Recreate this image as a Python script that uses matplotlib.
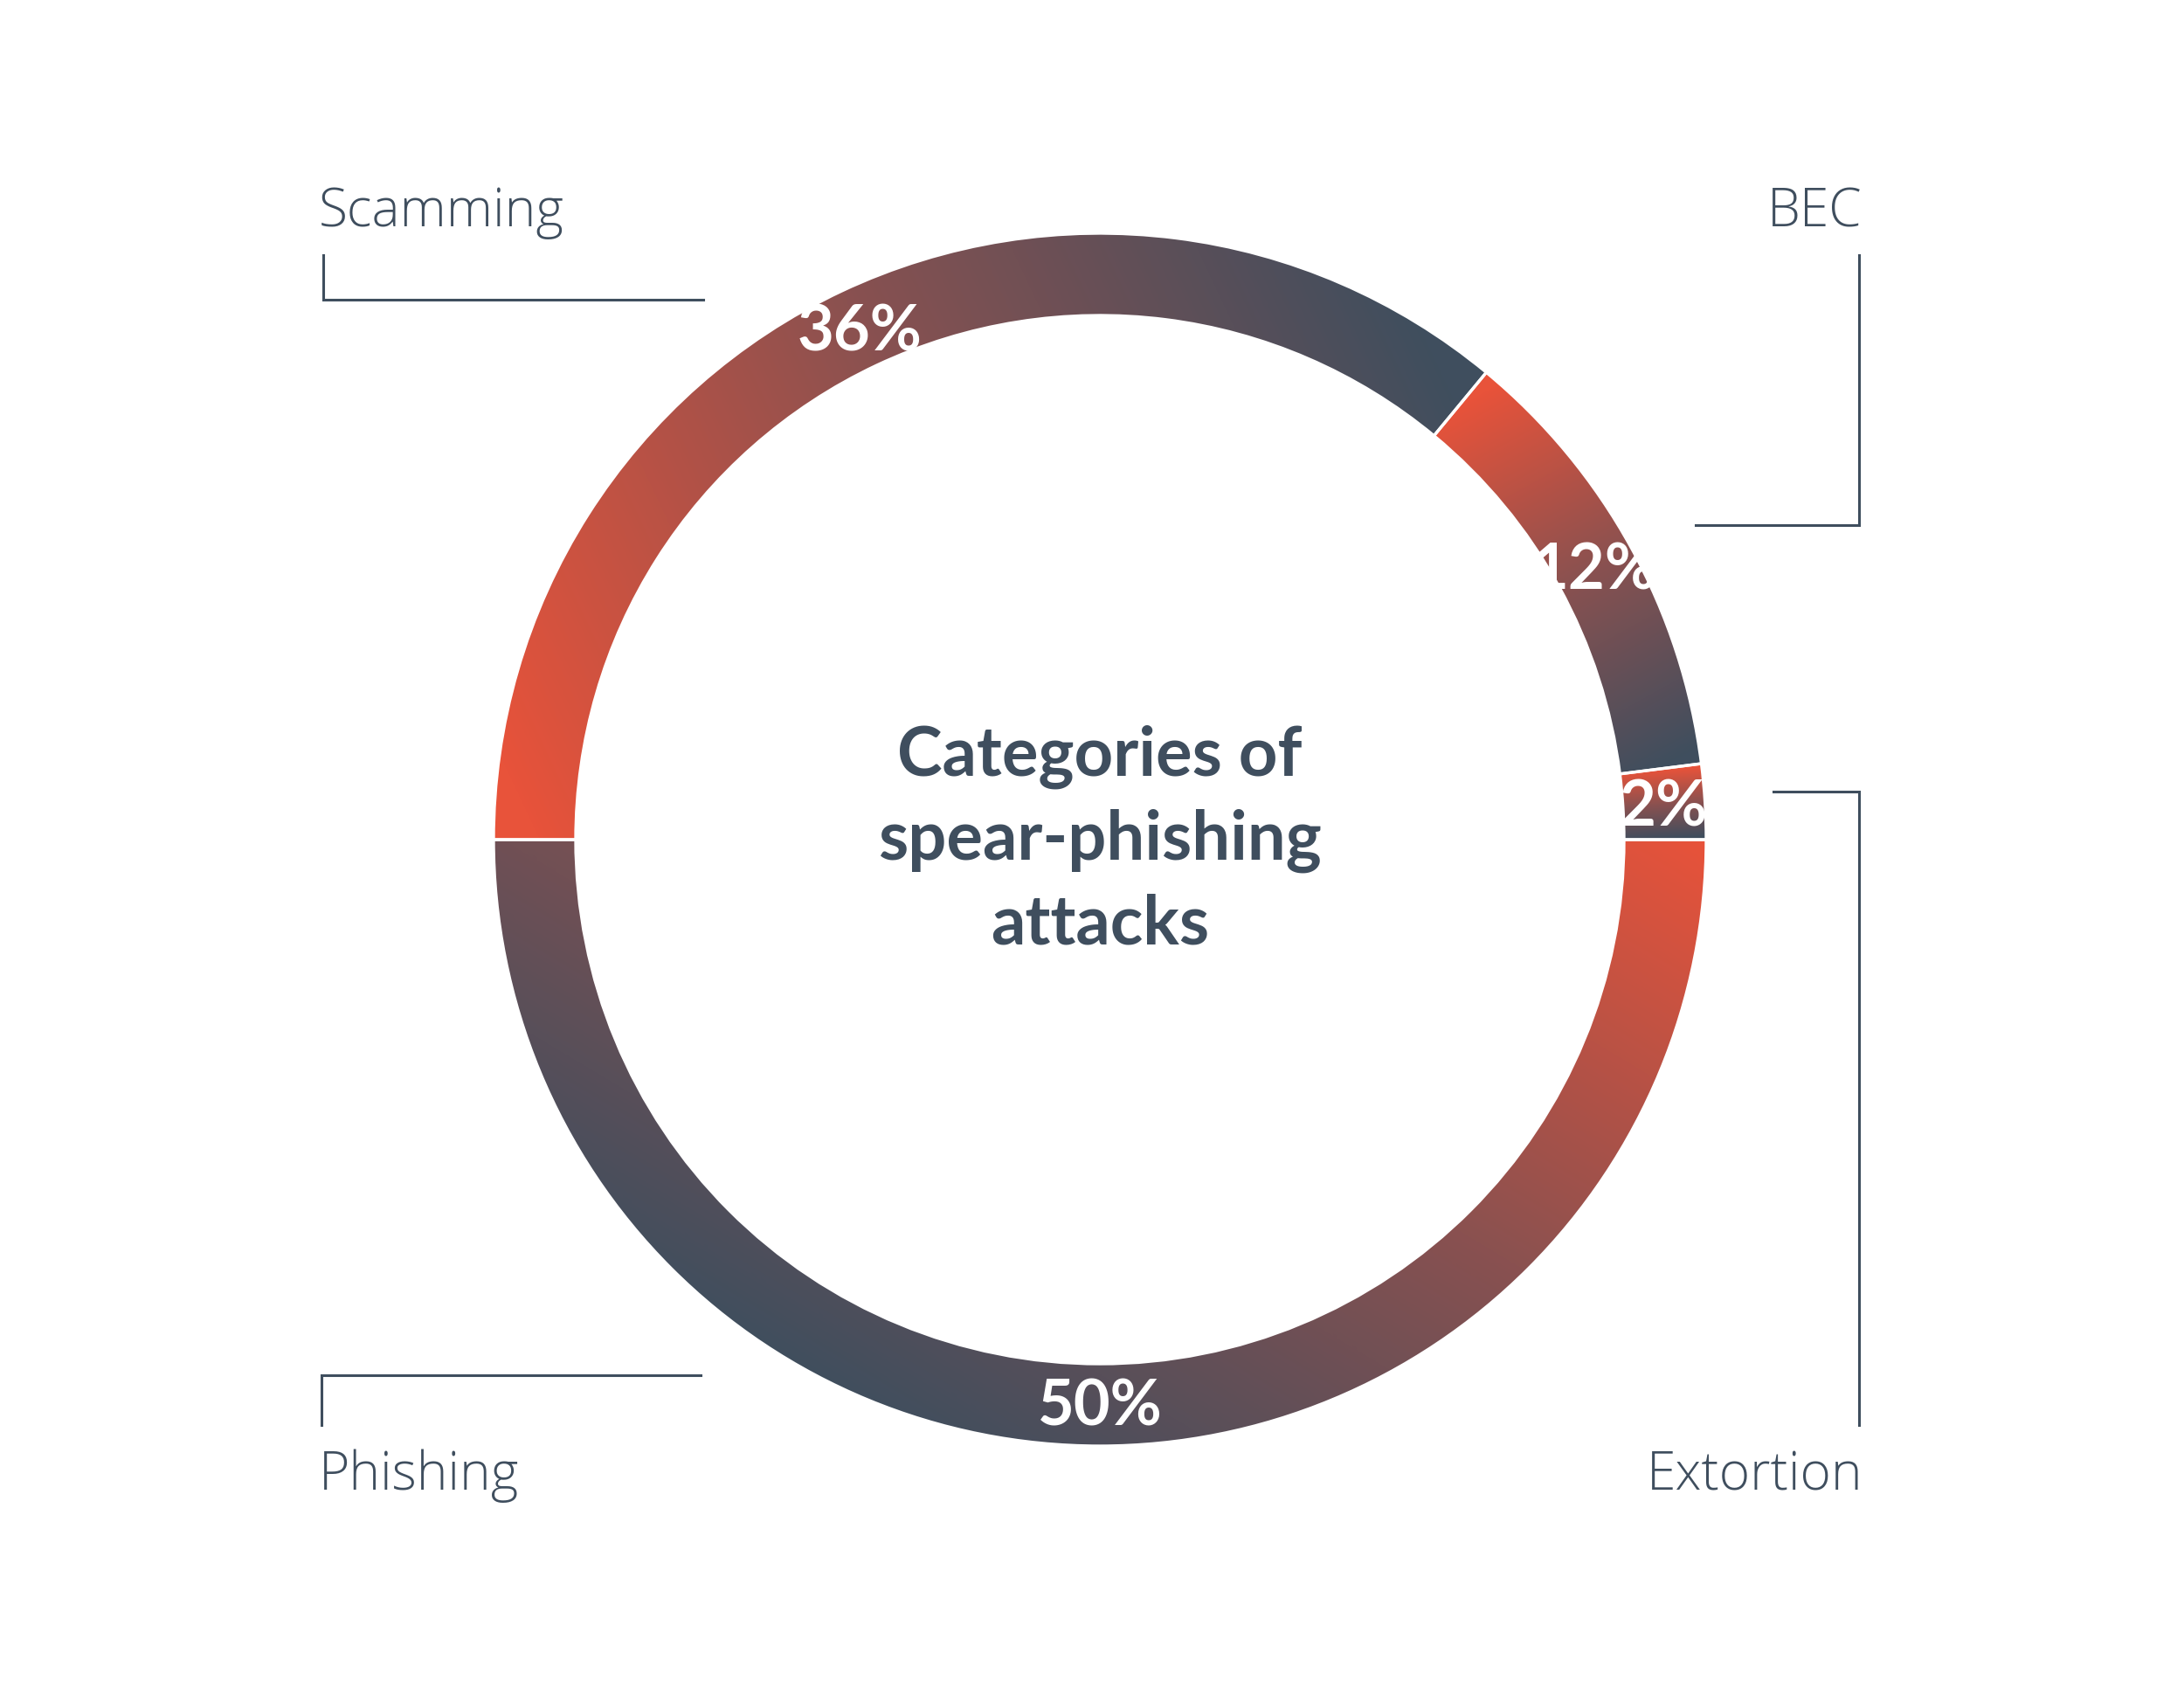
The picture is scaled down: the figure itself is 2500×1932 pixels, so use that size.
import numpy as np
import matplotlib
matplotlib.use("Agg")
import matplotlib.pyplot as plt
from matplotlib.colors import LinearSegmentedColormap

# ---------------- data ----------------
categories = ["Scamming", "BEC", "Extortion", "Phishing"]
shares = [36, 12, 2, 50]
pct_labels = ["36%", "12%", "2%", "50%"]
title_text = "Categories of\nspear-phishing\nattacks"

# ---------------- style ----------------
W, H = 2500, 1932
ORANGE = "#E8533A"
SLATE = "#3F4E5E"
TEXT = "#3F4E5E"
CX, CY_S = 1259, 961          # donut centre (screen px)
R_OUT, RING = 694, 94

def Y(ys):
    return H - ys

fig = plt.figure(figsize=(W / 100, H / 100), dpi=100)
ax = fig.add_axes([0, 0, 1, 1])

wedges, _ = ax.pie(shares, startangle=180, counterclock=False,
                   center=(CX, Y(CY_S)), radius=R_OUT, frame=True,
                   wedgeprops=dict(width=RING, facecolor="none",
                                   edgecolor="white", linewidth=2.4))
ax.set_xlim(0, W)
ax.set_ylim(0, H)
ax.set_aspect("auto")
ax.axis("off")

cmap = LinearSegmentedColormap.from_list("og", [ORANGE, "#8A5150", SLATE])

def ring_pt(theta_deg, r):
    t = np.deg2rad(theta_deg)
    return np.array([CX + r * np.cos(t), Y(CY_S) + r * np.sin(t)])

rmid = R_OUT - RING / 2

# gradient anchors (data coords) per wedge: orange at P0 -> slate at P1
anchors = []
for w, name in zip(wedges, categories):
    a_start, a_end = w.theta2, w.theta1   # clockwise: start at theta2
    if name == "Phishing":
        p0 = np.array([CX + R_OUT, Y(CY_S)])
        p1 = np.array([1410.0, Y(1870)])
    else:
        p0 = ring_pt(a_start, rmid)
        p1 = ring_pt(a_end, rmid)
    anchors.append((p0, p1))

for w, (p0, p1) in zip(wedges, anchors):
    bb = w.get_path().get_extents(w.get_patch_transform())
    x0, x1 = bb.x0 - 4, bb.x1 + 4
    y0, y1 = bb.y0 - 4, bb.y1 + 4
    nx, ny = int(x1 - x0) + 1, int(y1 - y0) + 1
    xs = np.linspace(x0, x1, nx)
    ys = np.linspace(y0, y1, ny)
    XX, YY = np.meshgrid(xs, ys)
    d = p1 - p0
    t = ((XX - p0[0]) * d[0] + (YY - p0[1]) * d[1]) / (d @ d)
    t = np.clip(t, 0, 1)
    im = ax.imshow(t, extent=[x0, x1, y0, y1], origin="lower", cmap=cmap,
                   vmin=0, vmax=1, interpolation="bilinear", zorder=1)
    im.set_clip_path(w)
    w.set_zorder(2)

# percentage labels
for w, lab in zip(wedges, pct_labels):
    mid = 0.5 * (w.theta1 + w.theta2)
    px, py = ring_pt(mid, 646)
    ax.text(px, py - 25, lab, ha="center", va="baseline", color="white",
            fontsize=52, fontweight="bold", family="Lato", zorder=5)

# centre title
ax.text(CX, Y(962), title_text, ha="center", va="center", color=TEXT,
        fontsize=56, fontweight="bold", family="Lato", linespacing=1.40,
        zorder=5)

# category labels and leader lines
lw = 2.2
lab_kw = dict(color=TEXT, fontsize=43.5, fontweight="light",
              family=["Open Sans", "DejaVu Sans"])
ax.text(365, Y(259), categories[0], ha="left", va="baseline", **lab_kw)
ax.plot([370, 370, 805], [Y(292), Y(343), Y(343)], color=TEXT, lw=lw,
        solid_joinstyle="miter")

ax.text(2132, Y(259), categories[1], ha="right", va="baseline", **lab_kw)
ax.plot([2128, 2128, 1941], [Y(292), Y(601), Y(601)], color=TEXT, lw=lw,
        solid_joinstyle="miter")

ax.text(2132, Y(1705), categories[2], ha="right", va="baseline", **lab_kw)
ax.plot([2030, 2128, 2128], [Y(906), Y(906), Y(1631)], color=TEXT, lw=lw,
        solid_joinstyle="miter")

ax.text(365, Y(1705), categories[3], ha="left", va="baseline", **lab_kw)
ax.plot([802, 368, 368], [Y(1574), Y(1574), Y(1631)], color=TEXT, lw=lw,
        solid_joinstyle="miter")

fig.savefig("out.png", dpi=100, facecolor="white")
